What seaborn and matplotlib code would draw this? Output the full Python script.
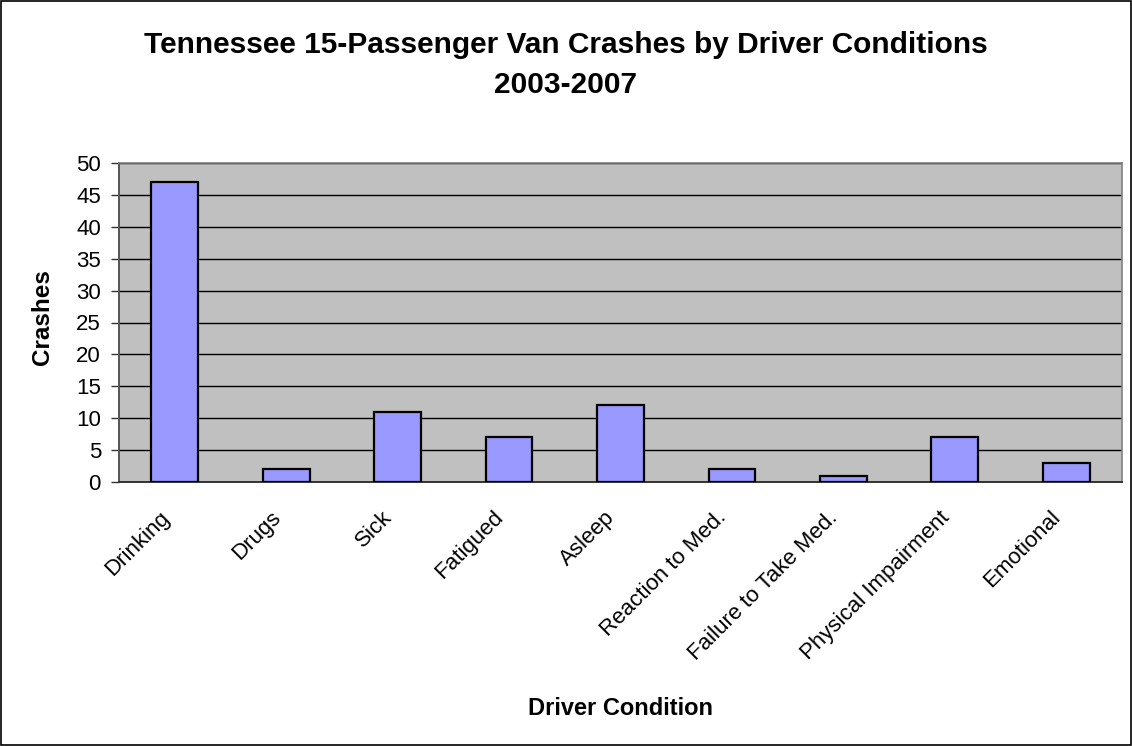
import matplotlib
matplotlib.use("Agg")
import matplotlib.pyplot as plt
import matplotlib.transforms as mtransforms
import seaborn as sns
import pandas as pd
import numpy as np
from matplotlib.patches import Rectangle

conditions = ["Drinking", "Drugs", "Sick", "Fatigued", "Asleep",
              "Reaction to Med.", "Failure to Take Med.",
              "Physical Impairment", "Emotional"]
crashes = [47, 2, 11, 7, 12, 2, 1, 7, 3]
y_ticks = [0, 5, 10, 15, 20, 25, 30, 35, 40, 45, 50]
title_lines = ["Tennessee 15-Passenger Van Crashes by Driver Conditions", "2003-2007"]

sns.set_style("white")
plt.rcParams["font.family"] = ["Liberation Sans", "DejaVu Sans"]
plt.rcParams["text.color"] = "black"
plt.rcParams["axes.labelcolor"] = "black"
plt.rcParams["xtick.color"] = "black"
plt.rcParams["ytick.color"] = "black"

df = pd.DataFrame({"Driver Condition": conditions, "Crashes": crashes})

W, H = 1132, 746
fig = plt.figure(figsize=(W / 100, H / 100), dpi=100)
# plot area in pixels: x 119..1122, y 163..482
ax = fig.add_axes([119 / W, 1 - 482 / H, (1122 - 119) / W, (482 - 163) / H])
ax.set_facecolor("#c0c0c0")

sns.barplot(data=df, x="Driver Condition", y="Crashes", ax=ax,
            color="#9999ff", saturation=1, width=0.42,
            edgecolor="black", linewidth=1.6, zorder=3)

ax.set_ylim(0, 50)
ax.set_xlim(-0.5, len(conditions) - 0.5)
ax.set_yticks(y_ticks)
ax.set_yticklabels([str(v) for v in y_ticks], fontsize=16)
ax.yaxis.grid(True, color="black", linewidth=1)
ax.set_axisbelow(True)

# category labels, slanted; ticks sit between the bars
ax.set_xticks(np.arange(len(conditions)))
ax.set_xticklabels(conditions, rotation=45, ha="right", va="top",
                   rotation_mode="anchor", fontsize=16)
ax.tick_params(axis="x", which="major", length=0, pad=18)
ax.set_xticks(np.arange(len(conditions) + 1) - 0.5, minor=True)
ax.tick_params(axis="x", which="minor", length=6, width=1, color="#333333",
               direction="out")
ax.tick_params(axis="y", which="major", length=6, width=1, color="#333333",
               direction="out", left=True, pad=7)
shift = mtransforms.ScaledTranslation(-16 / 100, 0, fig.dpi_scale_trans)
for lbl in ax.get_xticklabels():
    lbl.set_transform(lbl.get_transform() + shift)

for side in ["top", "right"]:
    ax.spines[side].set_color("#808080")
    ax.spines[side].set_linewidth(1.2)
ax.spines["left"].set_color("#555555")
ax.spines["bottom"].set_color("#333333")
ax.spines["left"].set_linewidth(1.4)
ax.spines["bottom"].set_linewidth(1.4)

ax.set_xlabel("")
ax.set_ylabel("")
fig.text(620 / W, 1 - 715 / H, "Driver Condition", ha="center", va="baseline",
         fontsize=17, fontweight="bold")
fig.text(54 / W, 1 - 317 / H, "Crashes", ha="right", va="center",
         rotation=90, fontsize=17.5, fontweight="bold")

fig.text(0.5, 1 - 53 / H, title_lines[0], ha="center", va="baseline",
         fontsize=21.5, fontweight="bold")
fig.text(0.5, 1 - 93 / H, title_lines[1], ha="center", va="baseline",
         fontsize=21.5, fontweight="bold")

fig.patches.append(Rectangle((0.001, 0.001), 0.998, 0.997, transform=fig.transFigure,
                             fill=False, edgecolor="black", linewidth=1.2))

fig.savefig("out.png", dpi=100, facecolor="white")
